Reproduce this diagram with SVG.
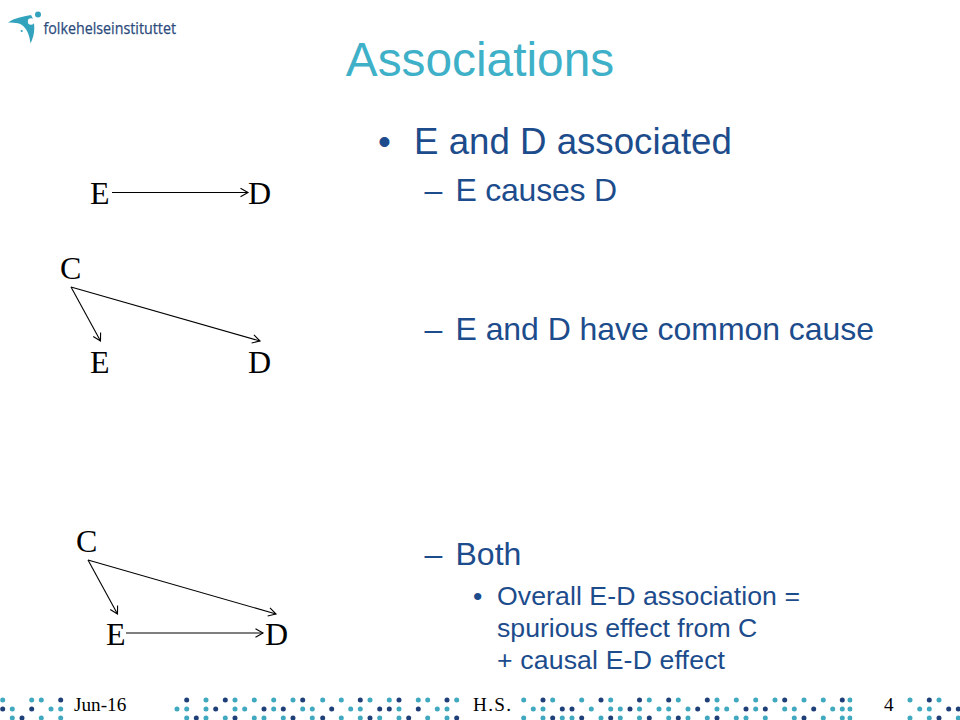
<svg xmlns="http://www.w3.org/2000/svg" width="960" height="720" viewBox="0 0 960 720">
<style>
.t{fill:none;stroke:#40a9bf;stroke-width:5;stroke-linecap:round}
.n{fill:none;stroke:#1f3f78;stroke-width:5;stroke-linecap:round}
.s{font-family:"Liberation Sans",Arial,sans-serif}
.l{font-family:"Liberation Serif","Times New Roman",serif;font-size:32px;fill:#000}
.f{font-family:"Liberation Serif","Times New Roman",serif;font-size:19.2px;fill:#000}
.c{fill:none;stroke:#000;stroke-width:1.1}
.b{fill:#1d4c8c}
</style>
<defs>
<marker id="a" markerUnits="userSpaceOnUse" markerWidth="12" markerHeight="12" refX="10" refY="6" orient="auto"><path d="M2.5 1.8L10 6L2.5 10.2" fill="none" stroke="#000" stroke-width="1.1"/></marker>
</defs>
<rect width="960" height="720" fill="#fff"/>
<g id="footer-dots">
<path class="t" d="M2.7 700h0M31.7 700h0M41.3 700h0M206 700h0M235 700h0M254.3 700h0M273.7 700h0M293 700h0M322.7 700h0M341.3 700h0M370 700h0M389.3 700h0M418.3 700h0M427.7 700h0M456.7 700h0M523.7 700h0M552.7 700h0M581.7 700h0M610.7 700h0M649.3 700h0M678.3 700h0M717 700h0M736.3 700h0M755.7 700h0M775 700h0M804 700h0M823.3 700h0M850 700h0M910 700h0M939 700h0
M12.3 709h0M51 709h0M60.7 709h0M177 709h0M186.7 709h0M206 709h0M235 709h0M244.7 709h0M273.7 709h0M302.7 709h0M312.3 709h0M350.7 709h0M360.3 709h0M399 709h0M437.3 709h0M447 709h0M533.3 709h0M543 709h0M591.3 709h0M610.7 709h0M620.3 709h0M639.5 709h0M659 709h0M668.7 709h0M688 709h0M717 709h0M726.7 709h0M755.7 709h0M784.7 709h0M794.3 709h0M832.7 709h0M842.3 709h0M850 709h0M919.7 709h0M929.3 709h0
M12.3 718h0M41.3 718h0M60.7 718h0M186.7 718h0M206 718h0M225.3 718h0M254.3 718h0M264 718h0M283.3 718h0M312.3 718h0M341.3 718h0M360.3 718h0M379.7 718h0M399 718h0M427.7 718h0M447 718h0M523.7 718h0M543 718h0M562.3 718h0M572 718h0M601 718h0M620.3 718h0M639.5 718h0M668.7 718h0M688 718h0M707.3 718h0M736.3 718h0M746 718h0M765.3 718h0M794.3 718h0M823.3 718h0M842.3 718h0M850 718h0M910 718h0M929.3 718h0M958.3 718h0"/>
<path class="n" d="M60.7 700h0M186.7 700h0M225.3 700h0M302.7 700h0M360.3 700h0M399 700h0M447 700h0M543 700h0M601 700h0M639.5 700h0M668.7 700h0M707.3 700h0M784.7 700h0M842.3 700h0M929.3 700h0
M2.7 709h0M31.7 709h0M215.7 709h0M264 709h0M283.3 709h0M331.7 709h0M379.7 709h0M389.3 709h0M418.3 709h0M562.3 709h0M572 709h0M630 709h0M697.7 709h0M746 709h0M765.3 709h0M813.7 709h0M948.7 709h0M958.3 709h0
M22 718h0M196.3 718h0M235 718h0M293 718h0M322.7 718h0M370 718h0M408.7 718h0M456.7 718h0M552.7 718h0M581.7 718h0M610.7 718h0M649.3 718h0M678.3 718h0M717 718h0M804 718h0M939 718h0"/>
</g>
<rect x="852.5" y="690" width="20" height="30" fill="#fff"/>
<g id="logo">
<path d="M8 22.5C14 18 25 16 31 15C35.5 22 35.5 34 30.5 43.5C29.5 33 25 25.5 19 23.5C15 22.5 11 22.5 8 22.5Z" fill="#33a3bd"/>
<circle cx="31" cy="21.5" r="3.2" fill="#fff"/>
<circle cx="38" cy="14.5" r="3" fill="#33a3bd"/>
<circle cx="25.7" cy="25.5" r="1.1" fill="#33a3bd"/>
<circle cx="21.7" cy="31" r="1.1" fill="#33a3bd"/>
<text x="43.5" y="33.5" font-family="Open Sans,sans-serif" font-size="16.5" fill="#2b4b7c" stroke="#2b4b7c" stroke-width=".25" textLength="132.5" lengthAdjust="spacingAndGlyphs">folkehelseinstituttet</text>
</g>
<g id="title"><text class="s" x="480" y="75.5" font-size="47.8" fill="#3eb0c8" text-anchor="middle">Associations</text></g>
<g id="bullets">
<text class="s b" x="378" y="153.5" font-size="36.67">•</text>
<text class="s b" x="414" y="153.5" font-size="36.67">E and D associated</text>
<text class="s b" x="424.5" y="201" font-size="32">–</text>
<text class="s b" x="455.5" y="201" font-size="32" textLength="161.5">E causes D</text>
<text class="s b" x="424.5" y="340" font-size="32">–</text>
<text class="s b" x="455.5" y="340" font-size="32" textLength="418.5">E and D have common cause</text>
<text class="s b" x="424.5" y="565" font-size="32">–</text>
<text class="s b" x="455.5" y="565" font-size="32">Both</text>
<text class="s b" x="473" y="605" font-size="26.67">•</text>
<text class="s b" x="497" y="605" font-size="26.67" textLength="303">Overall E-D association =</text>
<text class="s b" x="497" y="637" font-size="26.67">spurious effect from C</text>
<text class="s b" x="497" y="669" font-size="26.67" textLength="228">+ causal E-D effect</text>
</g>
<g id="footer">
<text class="f" x="74" y="711">Jun-16</text>
<text class="f" x="473" y="711" textLength="38">H.S.</text>
<text class="f" x="884" y="711">4</text>
</g>
<g id="node-E1"><text class="l" x="90" y="204">E</text></g>
<g id="node-D1"><text class="l" x="248" y="204">D</text></g>
<g id="node-C2"><text class="l" x="60" y="279">C</text></g>
<g id="node-E2"><text class="l" x="90" y="373">E</text></g>
<g id="node-D2"><text class="l" x="248" y="373">D</text></g>
<g id="node-C3"><text class="l" x="76" y="552">C</text></g>
<g id="node-E3"><text class="l" x="106" y="645">E</text></g>
<g id="node-D3"><text class="l" x="265" y="645">D</text></g>
<g id="connectors">
<line class="c" x1="112" y1="192.5" x2="248" y2="192.5" marker-end="url(#a)"/>
<line class="c" x1="71" y1="287" x2="100.5" y2="341" marker-end="url(#a)"/>
<line class="c" x1="71" y1="287" x2="260" y2="341" marker-end="url(#a)"/>
<line class="c" x1="88" y1="560" x2="117.5" y2="614" marker-end="url(#a)"/>
<line class="c" x1="88" y1="560" x2="276" y2="614" marker-end="url(#a)"/>
<line class="c" x1="126" y1="633" x2="263" y2="633" marker-end="url(#a)"/>
</g>
</svg>
